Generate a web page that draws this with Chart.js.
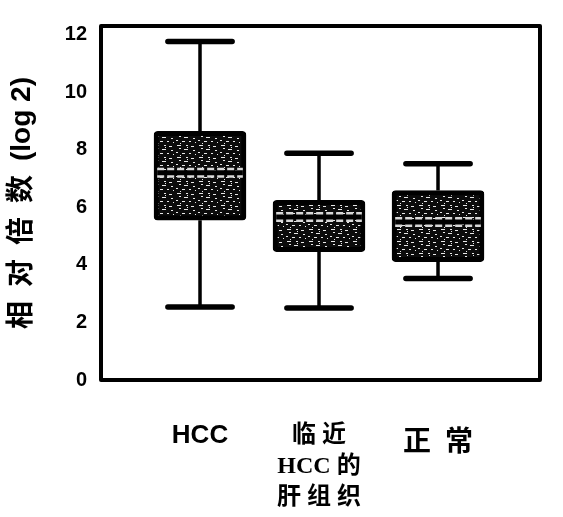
<!DOCTYPE html>
<html>
<head>
<meta charset="utf-8">
<script src="https://cdn.jsdelivr.net/npm/chart.js@4.4.1/dist/chart.umd.min.js"></script>
<style>
  html, body { margin: 0; padding: 0; background: #fff; }
  #wrap { width: 563px; height: 517px; }
</style>
</head>
<body>
<div id="wrap"><canvas id="c" width="563" height="517"></canvas></div>
<script>
// ---- Data ----
const categories = ['HCC', ['临 近', 'HCC 的', '肝 组 织'], '正\u2002常'];
const whiskerHigh = [11.76, 7.88, 7.51];
const q3Values    = [8.64, 6.24, 6.58];
const medians     = [7.20, 5.66, 5.49];
const q1Values    = [5.55, 4.46, 4.11];
const whiskerLow  = [2.54, 2.50, 3.53];
const yTicks      = [0, 2, 4, 6, 8, 10, 12];
const yTitle      = '相\u2002对\u2002倍\u2002数\u2002(log 2)';

// ---- style constants ----
const CAP_HALF = 0.27;   // in category units
const MED_HALF = 0.36;

// box fill pattern (dark with white speckle, like the printed texture)
function makePattern() {
  const p = document.createElement('canvas');
  p.width = 22; p.height = 12;
  const g = p.getContext('2d');
  g.fillStyle = '#0c0c0c';
  g.fillRect(0, 0, 22, 12);
  g.fillStyle = '#e8e8e8';
  const specks = [[1,1,4,1],[10,1,2,1],[15,2,3,1],[3,4,2,1],[8,5,4,1],[17,6,2,1],
                  [0,8,2,1],[6,9,3,1],[13,9,2,1],[19,10,1,1],[11,3,1,1],[4,11,1,1]];
  specks.forEach(s => g.fillRect(s[0], s[1], s[2], s[3]));
  return g.createPattern(p, 'repeat');
}
const boxFill = makePattern();

// ---- datasets built from the arrays ----
const idx = categories.map((_, i) => i + 1);
const boxData = idx.map((x, i) => ({ x: x, y: [q1Values[i], q3Values[i]] }));
const stemData = [], capData = [], medData = [];
idx.forEach((x, i) => {
  stemData.push({ x: x, y: whiskerLow[i] }, { x: x, y: q1Values[i] }, { x: x, y: null });
  stemData.push({ x: x, y: q3Values[i] }, { x: x, y: whiskerHigh[i] }, { x: x, y: null });
  capData.push({ x: x - CAP_HALF, y: whiskerHigh[i] }, { x: x + CAP_HALF, y: whiskerHigh[i] }, { x: x, y: null });
  capData.push({ x: x - CAP_HALF, y: whiskerLow[i] }, { x: x + CAP_HALF, y: whiskerLow[i] }, { x: x, y: null });
  medData.push({ x: x - MED_HALF, y: medians[i] }, { x: x + MED_HALF, y: medians[i] }, { x: x, y: null });
});

const framePlugin = {
  id: 'frame',
  afterDatasetsDraw(chart) {
    const a = chart.chartArea, ctx = chart.ctx;
    ctx.save();
    ctx.strokeStyle = '#000';
    ctx.lineWidth = 4;
    ctx.lineJoin = 'round';
    ctx.strokeRect(a.left, a.top, a.right - a.left, a.bottom - a.top);
    ctx.restore();
  }
};

const tickFonts = [
  { family: '"Liberation Sans", Arial, sans-serif', size: 26, weight: 'bold', lineHeight: 1.2 },
  { family: '"Liberation Serif", "Noto Sans CJK SC", serif', size: 24, weight: 'bold', lineHeight: 1.3 },
  { family: '"Noto Sans CJK SC", sans-serif', size: 28, weight: 'bold', lineHeight: 1.47 }
];

new Chart(document.getElementById('c'), {
  data: {
    datasets: [
      { type: 'line', data: medData, borderColor: '#000', borderWidth: 5, pointRadius: 0,
        spanGaps: false, order: 0, borderCapStyle: 'butt' },
      { type: 'line', data: medData, borderColor: '#d8d8d8', borderWidth: 10, pointRadius: 0,
        spanGaps: false, order: 0.5, borderCapStyle: 'butt', borderDash: [7, 3] },
      { type: 'bar', data: boxData, backgroundColor: boxFill, borderColor: '#000',
        borderWidth: 5, borderSkipped: false, borderRadius: 4, barThickness: 92, order: 1 },
      { type: 'line', data: stemData, borderColor: '#000', borderWidth: 3.5, pointRadius: 0,
        spanGaps: false, order: 2 },
      { type: 'line', data: capData, borderColor: '#000', borderWidth: 5.5, pointRadius: 0,
        spanGaps: false, order: 2, borderCapStyle: 'round' }
    ]
  },
  options: {
    responsive: false,
    animation: false,
    layout: { padding: { left: 0, right: 23, top: 21, bottom: 0 } },
    plugins: { legend: { display: false }, tooltip: { enabled: false } },
    scales: {
      x: {
        type: 'linear',
        offset: false,
        min: 0.168, max: 3.857,
        grid: { display: false, drawTicks: false, offset: false },
        border: { display: false },
        afterBuildTicks(scale) { scale.ticks = idx.map(v => ({ value: v })); },
        afterFit(scale) { scale.height = 137; },
        ticks: {
          padding: 40,
          maxRotation: 0, minRotation: 0, autoSkip: false,
          color: '#000',
          font: (ctx) => tickFonts[(ctx.index !== undefined ? ctx.index : 0)] || tickFonts[0],
          callback: (value) => categories[Math.round(value) - 1]
        }
      },
      y: {
        type: 'linear',
        min: 0, max: 12.3,
        grid: { display: false, drawTicks: false },
        border: { display: false },
        afterBuildTicks(scale) { scale.ticks = yTicks.map(v => ({ value: v })); },
        afterFit(scale) { scale.width = 101; },
        ticks: {
          padding: 14,
          color: '#000',
          font: { family: '"Liberation Sans", Arial, sans-serif', size: 20, weight: 'bold' }
        },
        title: {
          display: true,
          text: yTitle,
          color: '#000',
          padding: { top: 5, bottom: 0 },
          font: { family: '"Liberation Sans", "Noto Sans CJK SC", sans-serif', size: 28, weight: 'bold' }
        }
      }
    }
  },
  plugins: [framePlugin]
});
</script>
</body>
</html>
